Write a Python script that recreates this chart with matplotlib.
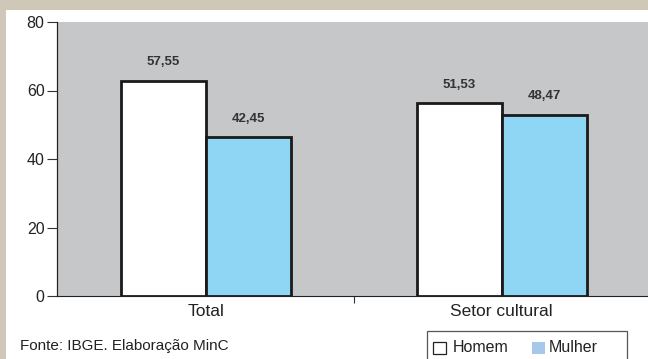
import matplotlib
matplotlib.use("Agg")
import matplotlib.pyplot as plt
from matplotlib.patches import Rectangle
import numpy as np

categories = ["Total", "Setor cultural"]
homem = [57.55, 51.53]
mulher = [42.45, 48.47]
labels_homem = ["57,55", "51,53"]
labels_mulher = ["42,45", "48,47"]
series_names = ["Homem", "Mulher"]
yticks = [0, 20, 40, 60, 80]

scale = 1.091  # bar scale vs. axis scale as drawn in the reference

plt.rcParams['font.family'] = ['Liberation Sans', 'DejaVu Sans']

W, H = 648, 359
fig = plt.figure(figsize=(W/100, H/100), dpi=100)
fig.patch.set_facecolor("white")


def fx(px):
    return px / W


def fy(py):
    return 1 - py / H


# beige frame
fig.add_artist(Rectangle((0, fy(10)), 1, 10/H, transform=fig.transFigure,
                         facecolor="#cfc8b8", edgecolor="none", zorder=0))
fig.add_artist(Rectangle((0, 0), 6/W, 1, transform=fig.transFigure,
                         facecolor="#cfc8b8", edgecolor="none", zorder=0))

ax = fig.add_axes([fx(57), fy(296), (W-57)/W, (296-22)/H])
ax.set_facecolor("#c6c7c9")

x = np.arange(len(categories))
w = 0.287
ax.bar(x - w/2, homem, w, color="white", edgecolor="#1a1a1a", linewidth=2, zorder=3)
ax.bar(x + w/2, mulher, w, color="#8fd6f5", edgecolor="#1a1a1a", linewidth=2, zorder=3)

for xi, v, t in zip(x - w/2, homem, labels_homem):
    ax.annotate(t, (xi, v), xytext=(0, 13.5), textcoords="offset points",
                ha="center", va="center", fontsize=9.5, fontweight="bold", color="#333333")
for xi, v, t in zip(x + w/2, mulher, labels_mulher):
    ax.annotate(t, (xi, v), xytext=(0, 13.5), textcoords="offset points",
                ha="center", va="center", fontsize=9.5, fontweight="bold", color="#333333")

ax.set_xlim(-0.503, 1.494)
ax.set_ylim(0, 80 / scale)

for s in ["top", "right"]:
    ax.spines[s].set_visible(False)
ax.spines["left"].set_color("#222222")
ax.spines["bottom"].set_color("#222222")

ax.set_yticks([])
sec = ax.secondary_yaxis("left", functions=(lambda y: y * scale, lambda y: y / scale))
sec.set_yticks(yticks)
sec.tick_params(axis="y", length=7, width=0.8, color="#333333", labelsize=11.5,
                labelcolor="#222222", pad=2)
sec.spines["left"].set_color("#222222")

ax.set_xticks([0.5])
ax.set_xticklabels([""])
ax.tick_params(axis="x", length=5, width=0.8, color="#333333")
for xi, c in zip(x, categories):
    ax.text(xi, fy(312), c, transform=ax.get_xaxis_transform(), ha="center", va="center",
            fontsize=12.5, color="#222222")
# x text positions use figure y; convert via blended transform
for t in ax.texts[-2:]:
    t.set_transform(matplotlib.transforms.blended_transform_factory(ax.transData, fig.transFigure))

fig.text(fx(20), fy(346), "Fonte: IBGE. Elaboração MinC", fontsize=11,
         color="#222222", va="center", ha="left")

# legend box
fig.add_artist(Rectangle((fx(427), fy(361)), (627-427)/W, (361-331)/H,
                         transform=fig.transFigure, facecolor="white",
                         edgecolor="#555555", linewidth=0.9, zorder=5))
leg_colors = ["white", "#a7c8eb"]
leg_edges = ["#222222", "none"]
sq_x = [433, 532]
txt_x = [453, 549]
for name, c, e, sx, tx in zip(series_names, leg_colors, leg_edges, sq_x, txt_x):
    fig.add_artist(Rectangle((fx(sx), fy(354)), 12.5/W, 12.5/H, transform=fig.transFigure,
                             facecolor=c, edgecolor=e, linewidth=0.9, zorder=6))
    fig.text(fx(tx), fy(348), name, fontsize=11.5, color="#222222",
             va="center", ha="left", zorder=6)

fig.savefig("out.png", dpi=100)
